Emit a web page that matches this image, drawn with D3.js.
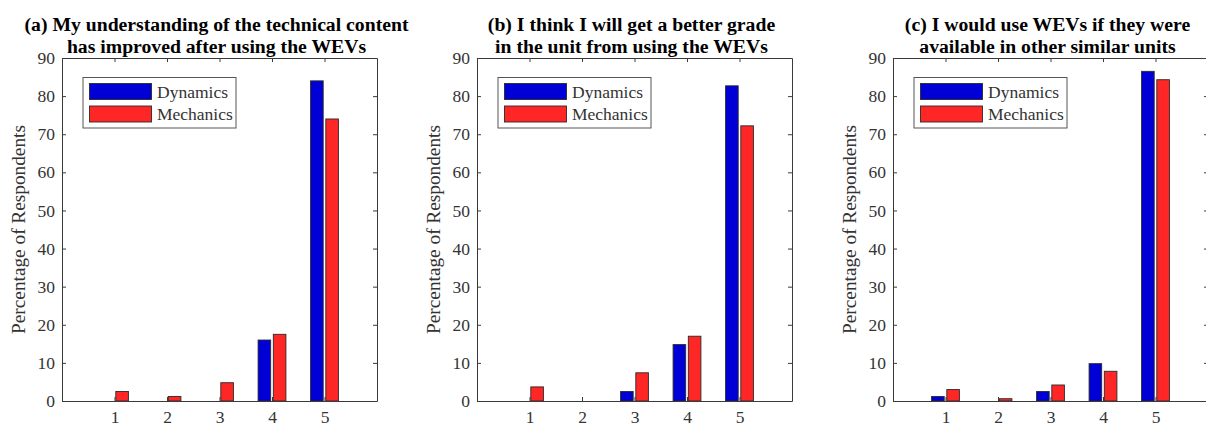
<!DOCTYPE html>
<html>
<head>
<meta charset="utf-8">
<script src="https://cdn.jsdelivr.net/npm/d3@7"></script>
<style>
  html, body { margin: 0; padding: 0; background: #fff; }
  svg { display: block; }
  text { font-family: "Liberation Serif", "Times New Roman", serif; }
</style>
</head>
<body>
<svg id="chart" width="1206" height="428"></svg>
<script>
// Likert response categories (1 = strongly disagree ... 5 = strongly agree)
const categories = [1, 2, 3, 4, 5];
const seriesNames = ["Dynamics", "Mechanics"];
const yTicks = [0, 10, 20, 30, 40, 50, 60, 70, 80, 90];

// Panel titles (two lines each)
const titles = [
  ["(a) My understanding of the technical content", "has improved after using the WEVs"],
  ["(b) I think I will get a better grade", "in the unit from using the WEVs"],
  ["(c) I would use WEVs if they were", "available in other similar units"]
];

// Percentage of respondents per category
const dynamicsA  = [0, 0, 0, 16.0, 84.0];
const mechanicsA = [2.5, 1.2, 4.8, 17.5, 74.0];
const dynamicsB  = [0, 0, 2.5, 14.8, 82.7];
const mechanicsB = [3.7, 0, 7.4, 17.0, 72.2];
const dynamicsC  = [1.2, 0, 2.5, 9.8, 86.5];
const mechanicsC = [3.0, 0.6, 4.2, 7.8, 84.3];

const panels = [
  { title: titles[0], series: [dynamicsA, mechanicsA] },
  { title: titles[1], series: [dynamicsB, mechanicsB] },
  { title: titles[2], series: [dynamicsC, mechanicsC] }
];

const colors = ["#0000d6", "#ff2626"];
const axisColor = "#3a3a3a";
const labelColor = "#333";

const svg = d3.select("#chart");
const axLefts = [62, 477, 893];
const axW = 315, axTop = 58, axBottom = 401;

const barW = 0.24;     // in category units
const barOff = 0.145;  // centre offset from category

panels.forEach((p, i) => {
  const left = axLefts[i];
  const x = d3.scaleLinear().domain([0, 6]).range([left, left + axW]);
  const y = d3.scaleLinear().domain([0, 90]).range([axBottom, axTop]);
  const g = svg.append("g");

  // bars
  p.series.forEach((vals, s) => {
    const off = s === 0 ? -barOff : barOff;
    g.selectAll(null)
      .data(categories.map((c, k) => ({ c, v: vals[k] })))
      .enter().append("rect")
      .attr("x", d => x(d.c + off - barW / 2))
      .attr("width", d => x(d.c + off + barW / 2) - x(d.c + off - barW / 2))
      .attr("y", d => y(d.v))
      .attr("height", d => y(0) - y(d.v))
      .attr("fill", colors[s])
      .attr("stroke", "#2a2a2a")
      .attr("stroke-width", 0.9);
  });

  // axes with inward ticks on all four sides
  const tl = 4;
  const yLeft = d3.axisLeft(y).tickValues(yTicks).tickSizeInner(-tl).tickSizeOuter(0).tickPadding(7);
  const yRight = d3.axisRight(y).tickValues(yTicks).tickSizeInner(-tl).tickSizeOuter(0).tickFormat("");
  const xBottom = d3.axisBottom(x).tickValues(categories).tickFormat(d3.format("d"))
    .tickSizeInner(-tl).tickSizeOuter(0).tickPadding(10);
  const xTop = d3.axisTop(x).tickValues(categories).tickSizeInner(-tl).tickSizeOuter(0).tickFormat("");

  const axes = [
    g.append("g").attr("transform", `translate(${left},0)`).call(yLeft),
    g.append("g").attr("transform", `translate(${left + axW},0)`).call(yRight),
    g.append("g").attr("transform", `translate(0,${axBottom})`).call(xBottom),
    g.append("g").attr("transform", `translate(0,${axTop})`).call(xTop)
  ];
  axes.forEach(a => {
    a.attr("font-size", null).attr("font-family", null);
    a.selectAll("path.domain").attr("stroke", axisColor).attr("stroke-width", 1);
    a.selectAll(".tick line").attr("stroke", axisColor).attr("stroke-width", 1);
    a.selectAll(".tick text")
      .attr("fill", labelColor)
      .style("font-family", "'Liberation Serif', 'Times New Roman', serif")
      .style("font-size", "17.5px");
  });

  // y-axis label
  g.append("text")
    .attr("transform", `translate(${left - 37},${(axTop + axBottom) / 2}) rotate(-90)`)
    .attr("text-anchor", "middle")
    .attr("fill", labelColor)
    .style("font-size", "19.3px")
    .text("Percentage of Respondents");

  // title
  const cx = left + axW / 2 - 3;
  p.title.forEach((line, k) => {
    g.append("text")
      .attr("x", cx)
      .attr("y", 31 + k * 22)
      .attr("text-anchor", "middle")
      .attr("fill", "#000")
      .style("font-weight", "bold")
      .style("font-size", "19.7px")
      .text(line);
  });

  // legend
  const lx = left + 21, ly = axTop + 19.5;
  const lg = g.append("g").attr("transform", `translate(${lx},${ly})`);
  lg.append("rect")
    .attr("width", 153).attr("height", 50.5)
    .attr("fill", "#fff").attr("stroke", "#555").attr("stroke-width", 1);
  seriesNames.forEach((name, s) => {
    lg.append("rect")
      .attr("x", 6.5).attr("y", 6 + s * 22.5)
      .attr("width", 62).attr("height", 16)
      .attr("fill", colors[s]).attr("stroke", "#2a2a2a").attr("stroke-width", 0.9);
    lg.append("text")
      .attr("x", 74).attr("y", 20 + s * 22.5)
      .attr("fill", labelColor)
      .style("font-size", "17.5px")
      .text(name);
  });
});
</script>
</body>
</html>
